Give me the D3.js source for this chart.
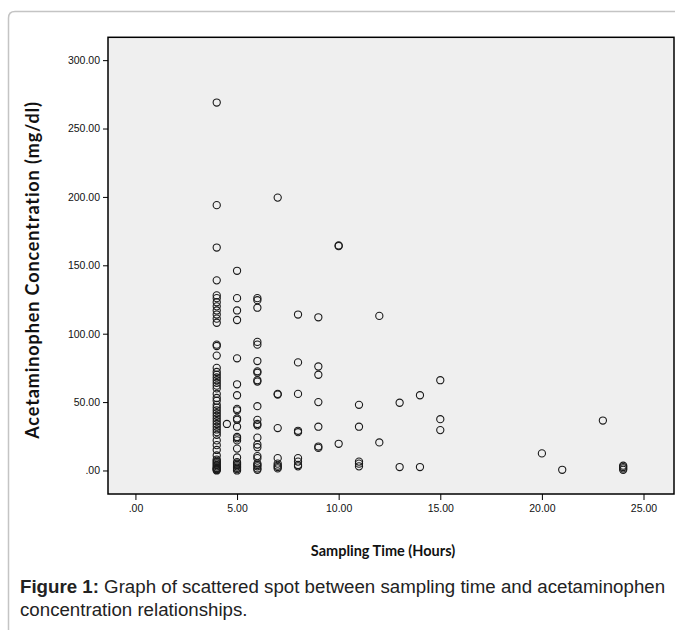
<!DOCTYPE html>
<html>
<head>
<meta charset="utf-8">
<script src="https://cdn.jsdelivr.net/npm/d3@7"></script>
<style>
  body { margin: 0; background: #fff; }
  svg { display: block; }
</style>
</head>
<body>
<script>
// sampling times (hours) and concentrations (mg/dl)
const times = [4, 4.5, 5, 6, 7, 8, 9, 10, 11, 12, 13, 14, 15, 20, 21, 23, 24]
const concentrations = [
    [269, 194, 163, 139, 128, 126, 123, 120, 117, 114, 111, 108, 92, 91, 84, 75, 72, 70, 68, 66, 64, 62, 60, 56, 53, 51, 48, 46, 44, 42, 40, 38, 36, 34, 32, 30, 28, 26, 22, 18.5, 15, 11, 8, 7, 6, 5, 4, 3, 2, 1.5, 1, 0.5, 0],
    [34],
    [146, 126, 117, 110, 82, 63, 55, 45, 44, 38, 37, 32, 24.5, 23.5, 22, 16, 9.5, 6, 5, 4, 3, 2, 1, 0],
    [126, 124.5, 119, 94, 92, 80, 72.5, 71.5, 66, 65, 47, 37, 34, 33, 24, 19, 17, 10.5, 9, 5, 4, 3, 1.5, 0.5],
    [199.5, 56, 55.5, 31, 9, 5, 3.5, 2.5, 1.5],
    [114, 79, 56, 29, 28, 9, 6.5, 4, 3],
    [112, 76, 70, 50, 32, 17.5, 16.5],
    [164.5, 164, 19.5],
    [48, 32, 6.5, 5, 3],
    [113, 20.5],
    [49.5, 2.5],
    [55, 2.5],
    [66, 37.5, 29.5],
    [12.5],
    [0.5],
    [36.5],
    [3.5, 2.5, 1.5, 0.5]
]
const xTicks = [0, 5, 10, 15, 20, 25]
const yTicks = [0, 50, 100, 150, 200, 250, 300]

const W = 675, H = 630
const pLeft = 108, pTop = 37.3, pRight = 674, pBottom = 494

const points = []
times.forEach((t, i) => concentrations[i].forEach(c => points.push([t, c])))

const svg = d3.select("body").append("svg")
    .attr("width", W)
    .attr("height", H)

// outer frame of the figure
svg.append("path")
    .attr("d", "M8.5,640 V18 Q8.5,11.5 15,11.5 H690")
    .attr("fill", "none")
    .attr("stroke", "#c4c4c4")
    .attr("stroke-width", 1.5)

const x = d3.scaleLinear().domain([-1.35, 26.5]).range([pLeft, pRight])
const y = d3.scaleLinear().domain([-17.2, 316.7]).range([pBottom, pTop])

svg.append("rect")
    .attr("x", pLeft).attr("y", pTop)
    .attr("width", pRight - pLeft).attr("height", pBottom - pTop)
    .attr("fill", "#efefef")

function fmt(v) {
    const s = d3.format(".2f")(v)
    return s.startsWith("0.") ? s.slice(1) : s
}

const xAxis = svg.append("g")
    .attr("transform", "translate(0," + pBottom + ")")
    .call(d3.axisBottom(x).tickValues(xTicks).tickSize(6).tickPadding(5).tickFormat(fmt))
const yAxis = svg.append("g")
    .attr("transform", "translate(" + pLeft + ",0)")
    .call(d3.axisLeft(y).tickValues(yTicks).tickSize(5).tickPadding(3).tickFormat(fmt))

for (const g of [xAxis, yAxis]) {
    g.select(".domain").remove()
    g.selectAll(".tick line").attr("stroke", "#000").attr("stroke-width", 1)
    g.selectAll(".tick text")
        .attr("fill", "#111")
        .style("font-family", "'Liberation Sans', Arial, sans-serif")
        .style("font-size", "10.5px")
}

svg.append("g").selectAll("circle")
    .data(points)
    .enter()
    .append("circle")
    .attr("cx", d => x(d[0]))
    .attr("cy", d => y(d[1]))
    .attr("r", 3.6)
    .attr("fill", "none")
    .attr("stroke", "#1a1a1a")
    .attr("stroke-width", 1.1)

svg.append("rect")
    .attr("x", pLeft).attr("y", pTop)
    .attr("width", pRight - pLeft).attr("height", pBottom - pTop)
    .attr("fill", "none")
    .attr("stroke", "#000")
    .attr("stroke-width", 1.5)

svg.append("text")
    .attr("transform", "translate(39," + 270 + ") rotate(-90)")
    .attr("text-anchor", "middle")
    .style("font-family", "Lato, sans-serif")
    .style("font-weight", "bold")
    .style("font-size", "18px")
    .style("letter-spacing", "0.9px")
    .attr("fill", "#111")
    .text("Acetaminophen Concentration (mg/dl)")

svg.append("text")
    .attr("x", 383).attr("y", 556)
    .attr("text-anchor", "middle")
    .style("font-family", "Lato, sans-serif")
    .style("font-weight", "bold")
    .style("font-size", "14.5px")
    .attr("fill", "#111")
    .text("Sampling Time (Hours)")

const cap = svg.append("text")
    .attr("x", 20).attr("y", 593)
    .style("font-family", "'Liberation Sans', Arial, sans-serif")
    .style("font-size", "18.7px")
    .attr("fill", "#222")
cap.append("tspan").style("font-weight", "bold").text("Figure 1:")
cap.append("tspan").text(" Graph of scattered spot between sampling time and acetaminophen")
svg.append("text")
    .attr("x", 20).attr("y", 616)
    .style("font-family", "'Liberation Sans', Arial, sans-serif")
    .style("font-size", "18.7px")
    .attr("fill", "#222")
    .text("concentration relationships.")
</script>
</body>
</html>
